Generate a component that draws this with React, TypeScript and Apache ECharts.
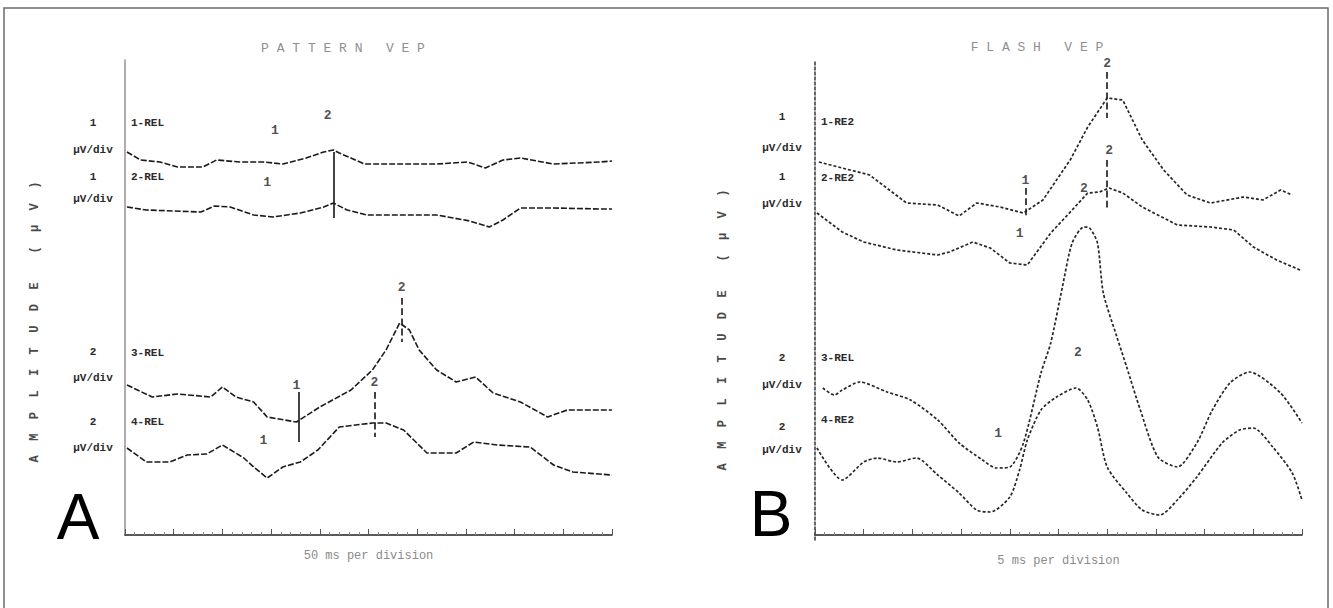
import React, { useEffect, useRef } from "react";
import * as echarts from "echarts";

// ---------- Panel A (pattern VEP) : time in ms, amplitude in µV ----------
const timeA1 = [1, 8, 18, 27, 40, 47, 59, 71, 81, 93, 102, 107, 110, 123, 160, 176, 185, 194, 203, 220, 244, 250];
const ampA1 = [1.0, 0.2, 0, -0.5, -0.5, 0.2, 0, 0, -0.2, 0.4, 1.0, 1.2, 0.9, -0.2, -0.2, 0, -0.6, 0.2, 0.4, -0.2, 0, 0.1];
const timeA2 = [1, 11, 39, 46, 54, 66, 76, 90, 102, 107, 114, 124, 160, 177, 187, 194, 203, 220, 244, 250];
const ampA2 = [0.5, 0.2, 0, 0.6, 0.5, -0.3, -0.5, -0.1, 0.5, 0.9, 0.2, -0.3, -0.3, -0.9, -1.5, -0.8, 0.4, 0.4, 0.3, 0.3];
const timeA3 = [1, 14, 27, 44, 50, 57, 66, 73, 88, 100, 116, 127, 134, 141, 146, 151, 160, 170, 180, 189, 203, 217, 227, 250];
const ampA3 = [1.5, 0.3, 0.6, 0.3, 1.3, 0.3, -0.2, -1.7, -2.2, -0.7, 1.0, 3.0, 5.0, 7.7, 7.0, 5.0, 3.0, 1.8, 2.3, 0.7, -0.2, -1.7, -1.0, -1.0];
const timeA4 = [1, 11, 23, 32, 42, 50, 61, 66, 73, 81, 90, 99, 110, 127, 134, 143, 155, 170, 179, 191, 208, 220, 230, 250];
const ampA4 = [1.2, -0.2, -0.2, 0.5, 0.6, 1.5, 0.2, -0.7, -1.8, -0.7, -0.2, 1.0, 3.3, 3.7, 3.7, 3.0, 0.7, 0.7, 1.8, 1.5, 1.3, -0.5, -1.2, -1.5];
const offsetsA = [37.3, 32.3, 13.5, 7.5];
const channelsA = ["1-REL", "2-REL", "3-REL", "4-REL"];

// ---------- Panel B (flash VEP) ----------
const timeB1 = [2, 28, 47, 63, 74, 83, 95, 107, 117, 131, 140, 150, 158, 168, 179, 191, 203, 220, 230, 239, 245];
const ampB1 = [4.3, 3.0, 0.2, 0, -1.1, 0.2, -0.2, -0.8, 0.5, 4.5, 7.8, 10.7, 10.5, 6.5, 3.5, 1.0, 0.2, 0.8, 0.5, 1.5, 1.0];
const timeB2 = [1, 14, 25, 42, 63, 69, 81, 90, 100, 109, 121, 132, 140, 146, 151, 158, 168, 186, 203, 215, 225, 237, 249];
const ampB2 = [3.2, 1.3, 0.3, -0.5, -1.0, -0.7, 0.3, -0.3, -1.8, -2.0, 1.2, 3.5, 5.2, 5.3, 5.7, 5.2, 3.8, 2.0, 1.8, 1.5, -0.2, -1.5, -2.5];
const timeB3 = [4, 10, 14, 23, 37, 49, 63, 74, 86, 93, 100, 107, 116, 121, 127, 132, 138, 141, 145, 148, 155, 160, 167, 176, 186, 196, 204, 213, 223, 239, 250];
const ampB3 = [3.2, 2.5, 3.0, 3.8, 2.8, 2.0, 0, -2.3, -4.0, -4.8, -4.7, -2.3, 4.7, 7.7, 13.3, 17.7, 19.3, 19.2, 17.7, 12.7, 8.3, 5.3, 1.0, -3.7, -4.7, -2.3, 1.0, 3.7, 4.8, 2.7, -0.3];
const timeB4 = [1, 14, 25, 32, 42, 52, 63, 74, 83, 90, 100, 105, 109, 116, 124, 134, 140, 145, 150, 160, 168, 177, 186, 196, 209, 218, 225, 235, 245, 250];
const ampB4 = [2.2, -1.0, 0.8, 1.2, 0.8, 1.2, -0.5, -2.3, -4.0, -4.2, -2.7, 0, 3.0, 6.0, 7.3, 8.2, 7.0, 4.3, 0.3, -2.3, -4.0, -4.5, -3.0, -0.7, 2.7, 4.0, 4.2, 2.3, -0.3, -3.0];
const offsetsB = [33.0, 29.0, 11.5, 6.5];
const channelsB = ["1-RE2", "2-RE2", "3-REL", "4-RE2"];

// peak markers: [time, level, label]
const peakLabelsA: [number, number, string][] = [
  [77, 40.5, "1"], [104, 42.0, "2"], [73, 35.3, "1"], [142, 24.8, "2"], [88, 15.0, "1"], [128, 15.3, "2"], [71, 9.5, "1"],
];
const peakLinesA: [number, number, number, string][] = [
  [107, 38.3, 31.7, "solid"], [142, 23.7, 19.3, "dashed"], [89, 14.3, 9.3, "solid"], [128, 14.3, 9.8, "dashed"],
];
const peakLabelsB: [number, number, string][] = [
  [150, 47.2, "2"], [151, 38.5, "2"], [108, 35.5, "1"], [105, 30.2, "1"], [138, 34.7, "2"], [135, 18.3, "2"], [94, 10.2, "1"],
];
const peakLinesB: [number, number, number, string][] = [
  [150, 46.3, 41.7, "dashed"], [150, 37.5, 32.5, "dashed"], [108, 34.7, 31.7, "dashed"],
];

const scaleLabels = ["1", "1", "2", "2"];

const MONO = "'Liberation Mono', 'DejaVu Sans Mono', monospace";
const SANS = "'Liberation Sans', Arial, sans-serif";

function build(times: number[], amps: number[], offset: number) {
  return times.map((t, i) => [t, +(amps[i] + offset).toFixed(2)]);
}

function spaced(s: string) {
  return s.split("").join("  ");
}

export default function App() {
  const ref = useRef<HTMLDivElement>(null);
  useEffect(() => {
    if (!ref.current) return;
    const chart = echarts.init(ref.current, null, { renderer: "svg" });

    const traceStyleA = { color: "#1a1a1a", width: 1.6, type: [6, 2] as any };
    const traceStyleB = { color: "#262626", width: 1.7, type: [3, 2] as any };

    const mkLines = (lines: [number, number, number, string][]) => ({
      silent: true,
      symbol: ["none", "none"],
      label: { show: false },
      data: lines.map((l) => [
        { coord: [l[0], l[1]], lineStyle: { color: "#222", width: 1.7, type: l[3] } },
        { coord: [l[0], l[2]] },
      ]),
    });

    const tracesA = [
      [timeA1, ampA1], [timeA2, ampA2], [timeA3, ampA3], [timeA4, ampA4],
    ].map(([t, a], i) => ({
      type: "line",
      xAxisIndex: 0,
      yAxisIndex: 0,
      symbol: "none",
      silent: true,
      lineStyle: traceStyleA,
      data: build(t as number[], a as number[], offsetsA[i]),
      ...(i === 0 ? { markLine: mkLines(peakLinesA) } : {}),
    }));

    const tracesB = [
      [timeB1, ampB1], [timeB2, ampB2], [timeB3, ampB3], [timeB4, ampB4],
    ].map(([t, a], i) => ({
      type: "line",
      xAxisIndex: 1,
      yAxisIndex: 1,
      symbol: "none",
      silent: true,
      smooth: i >= 2 ? 0.25 : false,
      lineStyle: traceStyleB,
      data: build(t as number[], a as number[], offsetsB[i]),
      ...(i === 0 ? { markLine: mkLines(peakLinesB) } : {}),
    }));

    const labelSeries = (idx: number, arr: [number, number, string][]) => ({
      type: "scatter",
      xAxisIndex: idx,
      yAxisIndex: idx,
      symbol: "circle",
      symbolSize: 0,
      itemStyle: { color: "rgba(0,0,0,0)" },
      silent: true,
      data: arr.map((p) => [p[0], p[1], p[2]]),
      label: {
        show: true,
        position: "inside",
        formatter: (p: any) => p.data[2],
        fontFamily: MONO,
        fontWeight: "bold",
        fontSize: 13,
        color: "#222",
      },
    });

    const xAxisCommon = (name: string) => ({
      type: "value",
      min: 0,
      max: 250,
      interval: 25,
      name,
      nameLocation: "middle",
      nameGap: 15,
      nameTextStyle: { fontFamily: MONO, fontSize: 12, color: "#8a8a8a" },
      axisLine: { show: true, lineStyle: { color: "#222", width: 1.6 } },
      axisTick: { show: true, inside: true, length: 6, lineStyle: { color: "#555" } },
      minorTick: { show: true, splitNumber: 5, length: 3, lineStyle: { color: "#888" } },
      axisLabel: { show: false },
      splitLine: { show: false },
    });

    const yAxisCommon = (color: string, type: any) => ({
      type: "value",
      min: -0.5,
      max: 47.5,
      axisLine: { show: true, lineStyle: { color, width: 1.6, type } },
      axisTick: { show: false },
      axisLabel: { show: false },
      splitLine: { show: false },
    });

    const texts: any[] = [];
    texts.push({
      type: "rect",
      shape: { x: 4, y: 8, width: 1324, height: 620 },
      style: { fill: "none", stroke: "#6a6a6a", lineWidth: 1.5 },
      silent: true,
    });
    const addText = (x: number, y: number, text: string, opts: any = {}) =>
      texts.push({
        type: "text",
        x,
        y,
        silent: true,
        style: {
          text,
          fill: "#2a2a2a",
          font: `bold 11px ${MONO}`,
          textAlign: "center",
          textVerticalAlign: "middle",
          ...opts,
        },
      });

    addText(343, 48, "P A T T E R N   V E P", { fill: "#8f8f8f", font: `13px ${MONO}` });
    addText(1037, 47, "F L A S H   V E P", { fill: "#8f8f8f", font: `13px ${MONO}` });

    const ampTitle = spaced("AMPLITUDE") + "    " + spaced("(µV)");
    texts.push({
      type: "text", x: 35, y: 322, rotation: Math.PI / 2, silent: true,
      style: { text: ampTitle, fill: "#4a4a4a", font: `bold 12px ${MONO}`, textAlign: "center", textVerticalAlign: "middle" },
    });
    texts.push({
      type: "text", x: 723, y: 330, rotation: Math.PI / 2, silent: true,
      style: { text: ampTitle, fill: "#4a4a4a", font: `bold 12px ${MONO}`, textAlign: "center", textVerticalAlign: "middle" },
    });

    const rowsA = [[123, 150], [177, 199], [352, 378], [422, 448]];
    const rowsB = [[117, 148], [177, 204], [358, 385], [427, 450]];
    const chanYA = [123, 177, 353, 422];
    const chanYB = [122, 178, 358, 420];
    rowsA.forEach((r, i) => {
      addText(93, r[0], scaleLabels[i]);
      addText(93, r[1], "µV/div");
      addText(131, chanYA[i], channelsA[i], { textAlign: "left" });
    });
    rowsB.forEach((r, i) => {
      addText(782, r[0], scaleLabels[i]);
      addText(782, r[1], "µV/div");
      addText(821, chanYB[i], channelsB[i], { textAlign: "left" });
    });

    addText(78, 517, "A", { fill: "#000", font: `64px ${SANS}` });
    addText(771, 514, "B", { fill: "#000", font: `64px ${SANS}` });

    chart.setOption({
      animation: false,
      backgroundColor: "#ffffff",
      grid: [
        { left: 125, top: 60, width: 487, height: 475 },
        { left: 815, top: 60, width: 487, height: 480 },
      ],
      xAxis: [
        { ...xAxisCommon("50 ms per division"), gridIndex: 0 },
        { ...xAxisCommon("5 ms per division"), gridIndex: 1 },
      ],
      yAxis: [
        { ...yAxisCommon("#9a9a9a", "solid"), gridIndex: 0, min: 0, max: 47.5 },
        { ...yAxisCommon("#444", [3, 2]), gridIndex: 1 },
      ],
      series: [
        ...tracesA,
        ...tracesB,
        labelSeries(0, peakLabelsA),
        labelSeries(1, peakLabelsB),
      ],
      graphic: texts,
    } as any);

    return () => chart.dispose();
  }, []);

  return (
    <div
      ref={ref}
      style={{ position: "fixed", left: 0, top: 0, width: 1333, height: 608, background: "#fff" }}
    />
  );
}
